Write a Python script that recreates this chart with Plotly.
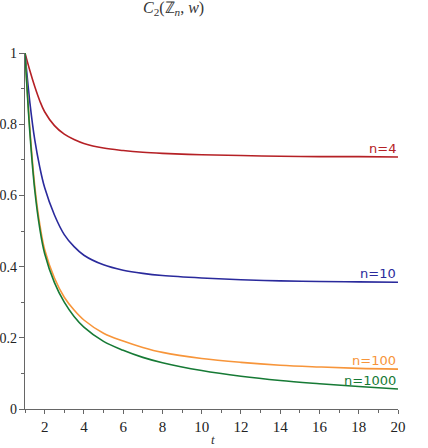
import plotly.graph_objects as go

# data
t = [1, 1.25, 1.5, 1.75, 2, 2.5, 3, 3.5, 4, 5, 6, 7, 8, 10, 12, 14, 16, 18, 20]
n4 = [1.0, 0.95, 0.905, 0.866, 0.835, 0.796, 0.772, 0.757, 0.746, 0.733, 0.726,
      0.721, 0.718, 0.714, 0.712, 0.710, 0.709, 0.709, 0.708]
n10 = [1.0, 0.86, 0.755, 0.68, 0.622, 0.545, 0.49, 0.456, 0.432, 0.405, 0.39,
       0.381, 0.375, 0.368, 0.363, 0.360, 0.358, 0.357, 0.356]
n100 = [1.0, 0.785, 0.625, 0.52, 0.448, 0.368, 0.314, 0.278, 0.25, 0.213, 0.191,
        0.173, 0.159, 0.142, 0.131, 0.123, 0.118, 0.114, 0.112]
n1000 = [1.0, 0.775, 0.613, 0.508, 0.437, 0.355, 0.300, 0.260, 0.230, 0.190, 0.165,
         0.145, 0.130, 0.108, 0.092, 0.080, 0.071, 0.063, 0.056]
series_labels = ["n=4", "n=10", "n=100", "n=1000"]
colors = ["#b52025", "#2a2a9c", "#f7953a", "#167a35"]
y_ticks = [0, 0.2, 0.4, 0.6, 0.8, 1]
x_ticks = [2, 4, 6, 8, 10, 12, 14, 16, 18, 20]

SERIF = "Liberation Serif"

fig = go.Figure()
for vals, lab, col in zip([n4, n10, n100, n1000], series_labels, colors):
    fig.add_trace(go.Scatter(x=t, y=vals, mode="lines", name=lab,
                             line=dict(color=col, width=1.6, shape="spline", smoothing=1.0),
                             showlegend=False, hoverinfo="skip"))
    fig.add_annotation(x=t[-1], y=vals[-1], text=lab, showarrow=False,
                       xanchor="right", yanchor="bottom", yshift=-1,
                       font=dict(family="DejaVu Sans", size=13, color=col))

fig.update_layout(
    width=428, height=448, margin=dict(l=25, r=30, t=53, b=39),
    plot_bgcolor="white", paper_bgcolor="white",
    font=dict(family=SERIF, size=14, color="#222222"),
    xaxis=dict(range=[1, 20], tickvals=x_ticks, ticklen=4, automargin=False,
               showline=True, linecolor="#666666", linewidth=1.2,
               ticks="outside", tickcolor="#666666", showgrid=False, zeroline=False,
               tickfont=dict(family=SERIF, size=15, color="#222222"),
               minor=dict(dtick=1, tick0=1, ticks="outside", ticklen=3, tickcolor="#666666")),
    yaxis=dict(range=[0, 1], tickvals=y_ticks, ticklen=5, automargin=False,
               ticklabelstandoff=-1,
               showline=True, linecolor="#666666", linewidth=1.2,
               ticks="outside", tickcolor="#666666", showgrid=False, zeroline=False,
               tickfont=dict(family=SERIF, size=14, color="#222222"),
               minor=dict(dtick=0.1, tick0=0, ticks="outside", ticklen=3, tickcolor="#666666")),
)

fig.add_annotation(xref="paper", yref="paper", x=0.397, y=1.125,
                   text="<i>C</i><sub>2</sub>(ℤ<sub><i>n</i></sub>, <i>w</i>)",
                   showarrow=False, xanchor="center", yanchor="middle",
                   font=dict(family=SERIF, size=16, color="#333333"))
fig.add_annotation(xref="paper", yref="paper", x=0.503, y=-0.085, text="<i>t</i>",
                   showarrow=False, xanchor="center", yanchor="middle",
                   font=dict(family=SERIF, size=13, color="#333333"))

fig.write_html("out.html")
